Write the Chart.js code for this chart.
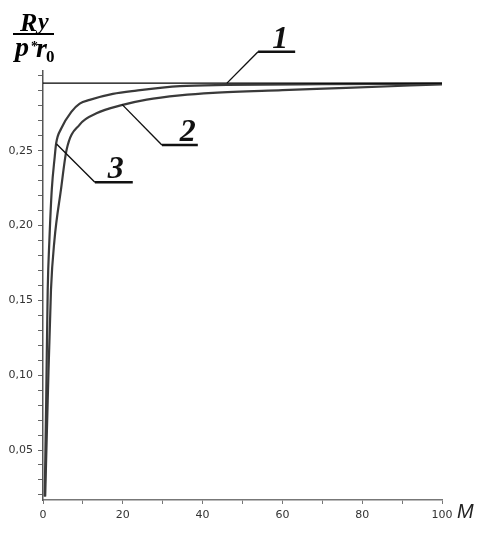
<!DOCTYPE html>
<html>
<head>
<meta charset="utf-8">
<script src="https://cdn.jsdelivr.net/npm/chart.js@4.4.1/dist/chart.umd.min.js"></script>
<style>
  html, body { margin: 0; padding: 0; background: #fff; }
  #wrap { width: 487px; height: 538px; }
</style>
</head>
<body>
<div id="wrap"><canvas id="chart" width="487" height="538"></canvas></div>
<script>
// values
const line1M = [0, 100];
const line1Ry = [0.2952, 0.2952];

const curve2M = [0.55, 1.18, 2.0, 2.86, 4.5, 5.9, 9.2, 13.4, 19.7, 26, 34.3, 42.6, 60, 76, 100];
const curve2Ry = [0.019, 0.083, 0.157, 0.190, 0.224, 0.2505, 0.2675, 0.2750, 0.2805, 0.2842, 0.2870, 0.2887, 0.2905, 0.292, 0.2944];

const curve3M = [0.43, 0.8, 1.18, 1.6, 2.2, 2.94, 3.3, 4.6, 7.1, 9.2, 11.7, 17.5, 23.4, 34.3, 46, 70, 100];
const curve3Ry = [0.019, 0.083, 0.157, 0.190, 0.224, 0.246, 0.255, 0.265, 0.276, 0.2815, 0.284, 0.288, 0.2902, 0.2932, 0.294, 0.2945, 0.2948];

const xTickValues = [0, 10, 20, 30, 40, 50, 60, 70, 80, 90, 100];
const yTickValues = [0.02, 0.03, 0.04, 0.05, 0.06, 0.07, 0.08, 0.09, 0.10, 0.11, 0.12, 0.13, 0.14,
  0.15, 0.16, 0.17, 0.18, 0.19, 0.20, 0.21, 0.22, 0.23, 0.24, 0.25, 0.26, 0.27, 0.28, 0.29, 0.30];
const yLabelled = [0.05, 0.10, 0.15, 0.20, 0.25];

// callout labels, in data units
const callouts = [
  { text: '1', anchor: [46.1, 0.2952], elbow: [53.9, 0.3162], end: 63.2, at: 0.6 },
  { text: '2', anchor: [19.8, 0.2810], elbow: [29.8, 0.2538], end: 38.8, at: 0.72 },
  { text: '3', anchor: [3.4, 0.2545], elbow: [13.0, 0.229], end: 22.5, at: 0.55 }
];

const toPoints = (xs, ys) => xs.map((x, i) => ({ x: x, y: ys[i] }));

const decorations = {
  id: 'decorations',
  afterDraw(chart) {
    const ctx = chart.ctx;
    const xs = chart.scales.x, ys = chart.scales.y;
    ctx.save();
    // callouts
    ctx.strokeStyle = '#111';
    ctx.fillStyle = '#111';
    ctx.font = 'italic bold 32px "Liberation Serif", serif';
    ctx.textAlign = 'center';
    ctx.textBaseline = 'alphabetic';
    callouts.forEach(c => {
      const ax = xs.getPixelForValue(c.anchor[0]), ay = ys.getPixelForValue(c.anchor[1]);
      const ex = xs.getPixelForValue(c.elbow[0]), ey = ys.getPixelForValue(c.elbow[1]);
      const endX = xs.getPixelForValue(c.end);
      ctx.lineWidth = 1.4;
      ctx.beginPath();
      ctx.moveTo(ax, ay);
      ctx.lineTo(ex, ey);
      ctx.stroke();
      ctx.lineWidth = 2.4;
      ctx.beginPath();
      ctx.moveTo(ex, ey);
      ctx.lineTo(endX, ey);
      ctx.stroke();
      ctx.fillText(c.text, ex + (endX - ex) * c.at, ey - 4);
    });

    // axis title M
    ctx.font = 'italic 20px "Liberation Sans", Arial, sans-serif';
    ctx.textAlign = 'left';
    ctx.fillStyle = '#222';
    ctx.fillText('M', xs.right + 15, chart.chartArea.bottom + 18);

    // y title: R_y / p* r_0
    ctx.fillStyle = '#000';
    ctx.font = 'italic bold 26px "Liberation Serif", serif';
    ctx.fillText('R', 20, 31);
    ctx.font = 'italic bold 24px "Liberation Serif", serif';
    ctx.fillText('y', 38, 29);
    ctx.fillRect(13, 33, 41, 2);
    ctx.font = 'italic bold 28px "Liberation Serif", serif';
    ctx.fillText('p', 15, 56);
    ctx.font = 'bold 14px "Liberation Serif", serif';
    ctx.fillText('*', 31, 51);
    ctx.font = 'italic bold 28px "Liberation Serif", serif';
    ctx.fillText('r', 36, 57);
    ctx.font = 'bold 17px "Liberation Serif", serif';
    ctx.fillText('0', 46, 62);
    ctx.restore();
  }
};

const curveStyle = {
  borderColor: '#3a3a3a',
  borderWidth: 2.2,
  pointRadius: 0,
  fill: false,
  cubicInterpolationMode: 'monotone'
};

new Chart(document.getElementById('chart'), {
  type: 'line',
  data: {
    datasets: [
      { label: '1', data: toPoints(line1M, line1Ry), borderColor: '#000', borderWidth: 1.4, pointRadius: 0 },
      Object.assign({ label: '2', data: toPoints(curve2M, curve2Ry) }, curveStyle),
      Object.assign({ label: '3', data: toPoints(curve3M, curve3Ry) }, curveStyle)
    ]
  },
  options: {
    responsive: false,
    animation: false,
    layout: { padding: { top: 71, right: 45, left: 0, bottom: 0 } },
    plugins: { legend: { display: false }, tooltip: { enabled: false } },
    scales: {
      x: {
        type: 'linear',
        min: 0,
        max: 100,
        afterBuildTicks: s => { s.ticks = xTickValues.map(v => ({ value: v })); },
        afterFit: s => { s.height = 38; },
        grid: { drawOnChartArea: false, drawTicks: true, tickLength: 4, color: '#777' },
        border: { color: '#777', width: 1.5 },
        ticks: {
          autoSkip: false,
          maxRotation: 0,
          padding: 5,
          color: '#333',
          font: { family: '"DejaVu Sans", sans-serif', size: 11 },
          callback: v => (v % 20 === 0 ? String(v) : '')
        }
      },
      y: {
        type: 'linear',
        min: 0.0166,
        max: 0.3033,
        afterBuildTicks: s => { s.ticks = yTickValues.map(v => ({ value: v })); },
        afterFit: s => { s.width = 43; },
        grid: { drawOnChartArea: false, drawTicks: true, tickLength: 5, color: '#666' },
        border: { color: '#555', width: 1.5 },
        ticks: {
          autoSkip: false,
          padding: 5,
          color: '#333',
          font: { family: '"DejaVu Sans", sans-serif', size: 11 },
          callback: v => {
            const hit = yLabelled.find(l => Math.abs(l - v) < 1e-6);
            return hit !== undefined ? hit.toFixed(2).replace('.', ',') : '';
          }
        }
      }
    }
  },
  plugins: [decorations]
});
</script>
</body>
</html>
